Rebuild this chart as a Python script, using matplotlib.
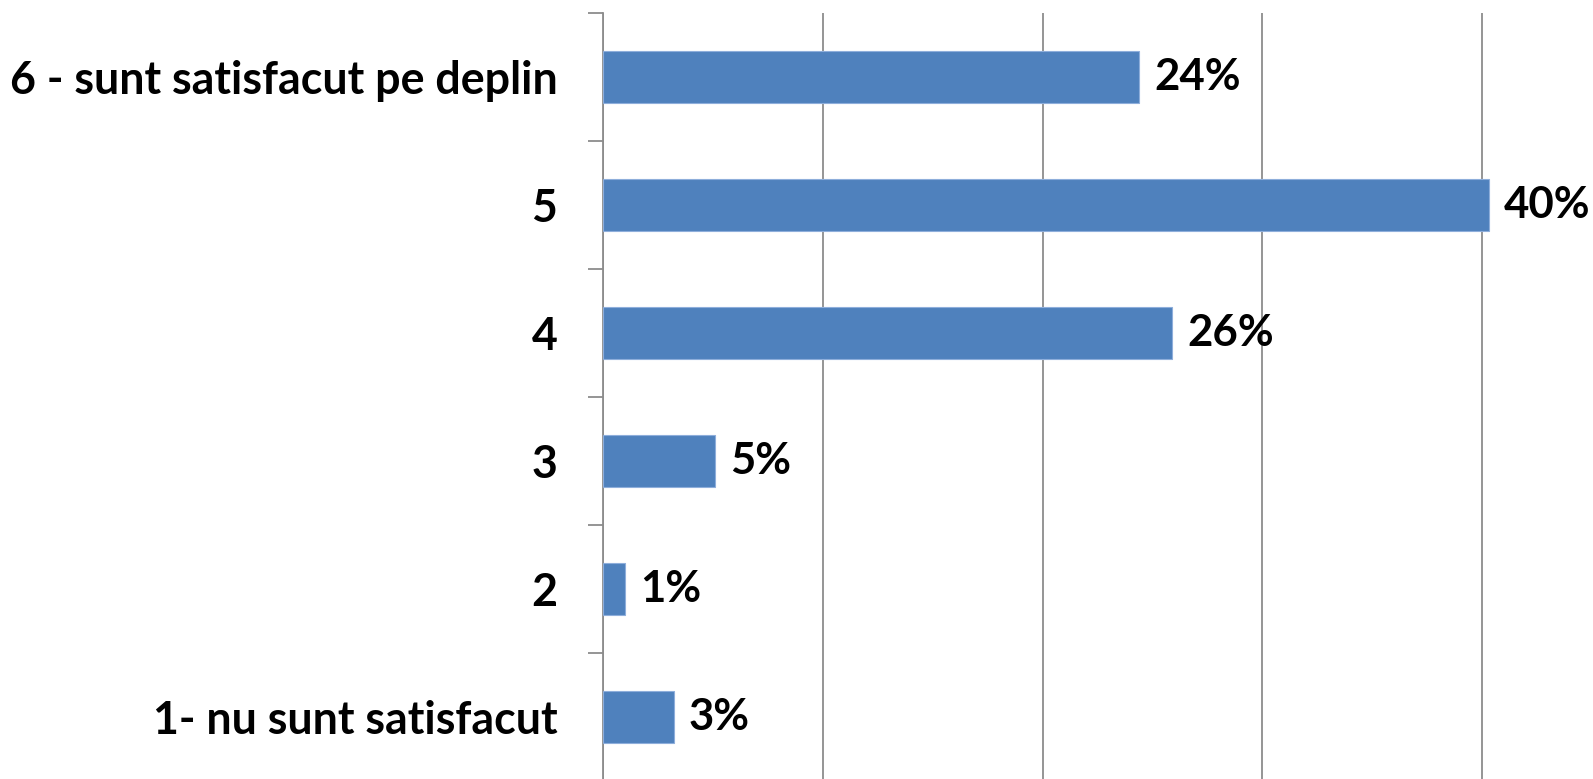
import matplotlib
matplotlib.use("Agg")
import matplotlib.pyplot as plt
import numpy as np

categories = ["1- nu sunt satisfacut", "2", "3", "4", "5", "6 - sunt satisfacut pe deplin"]
values = [3.2, 1.0, 5.1, 25.9, 40.3, 24.4]
value_labels = ["3%", "1%", "5%", "26%", "40%", "24%"]

W, H = 1593, 779
fig = plt.figure(figsize=(W/100, H/100), dpi=100)
left = 603.3 / W
right_px = 603.3 + 45 * 21.97
top_px = 13
bottom_px = 781
ax = fig.add_axes([left, 1 - bottom_px / H, (right_px - 603.3) / W, (bottom_px - top_px) / H])

font = "Lato"
y = np.arange(len(categories))
ax.barh(y, values, height=0.4, color="#4F81BD", edgecolor="#8EAEDB", linewidth=0.8, zorder=3)
for yi, v, lab in zip(y, values, value_labels):
    ax.annotate(lab, (v, yi), xytext=(11, 0), textcoords="offset points",
                va="center", ha="left", fontsize=31.5, fontweight="bold",
                family=font, color="black", zorder=4)

ax.set_xlim(0, 45)
ax.set_ylim(-0.5, len(categories) - 0.5)
ax.set_xticks([0, 10, 20, 30, 40])
ax.xaxis.grid(True, color="#8C8C8C", linewidth=1.3, zorder=0)
ax.tick_params(axis="x", length=0, labelbottom=False)

ax.set_yticks(y)
ax.set_yticklabels(categories, fontsize=32.2, fontweight="bold", family=font)
ax.set_yticks(np.arange(-0.5, len(categories), 1.0), minor=True)
ax.tick_params(axis="y", which="major", length=0, pad=33)
ax.tick_params(axis="y", which="minor", length=11, width=1.3, color="#8C8C8C")

for s in ["top", "right", "bottom"]:
    ax.spines[s].set_visible(False)
ax.spines["left"].set_color("#8C8C8C")
ax.spines["left"].set_linewidth(1.3)

fig.savefig("out.png", dpi=100)
